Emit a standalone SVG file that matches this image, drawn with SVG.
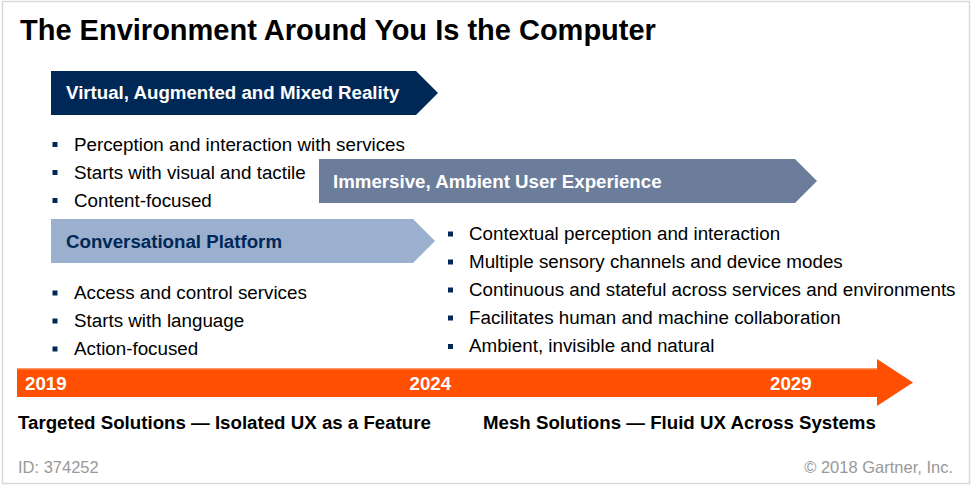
<svg xmlns="http://www.w3.org/2000/svg" width="972" height="487" viewBox="0 0 972 487">
<style>
text{font-family:"Liberation Sans",Arial,sans-serif}
.t{font-size:29px;font-weight:bold;fill:#000}
.h{font-size:18.7px;font-weight:bold}
.w{fill:#fff}
.b{font-size:18.8px;fill:#000}
.bl{fill:#002856}
.yr{font-size:18.7px;font-weight:bold;fill:#fff}
.lab{font-size:18.7px;font-weight:bold;fill:#000}
.ft{font-size:16.5px;fill:#999}
</style>
<rect x="0" y="0" width="972" height="487" fill="#fff"/>
<rect x="2.5" y="1.5" width="967" height="482" fill="none" stroke="#d9d9d9" stroke-width="1.5"/>
<text class="t" x="20" y="40">The Environment Around You Is the Computer</text>

<g id="vamr">
<polygon points="51,71 416,71 438,93 416,115 51,115" fill="#002856"/>
<text class="h w" x="66" y="99">Virtual, Augmented and Mixed Reality</text>
</g>
<g id="vamr-bullets">
<rect class="bl" x="52.5" y="142" width="5" height="5"/>
<rect class="bl" x="52.5" y="170" width="5" height="5"/>
<rect class="bl" x="52.5" y="198" width="5" height="5"/>
<text class="b" x="74" y="150.5">Perception and interaction with services</text>
<text class="b" x="74" y="178.5">Starts with visual and tactile</text>
<text class="b" x="74" y="206.5">Content-focused</text>
</g>

<g id="immersive">
<polygon points="319,159 795,159 817,181 795,203 319,203" fill="#6c7d9c"/>
<text class="h w" x="333" y="187.5">Immersive, Ambient User Experience</text>
</g>

<g id="conversational">
<polygon points="51,219 413,219 435,241 413,263 51,263" fill="#9bafce"/>
<text class="h" x="66" y="247.5" fill="#002856">Conversational Platform</text>
</g>
<g id="conv-bullets">
<rect class="bl" x="52.5" y="290.5" width="5" height="5"/>
<rect class="bl" x="52.5" y="318.5" width="5" height="5"/>
<rect class="bl" x="52.5" y="346.5" width="5" height="5"/>
<text class="b" x="74" y="298.5">Access and control services</text>
<text class="b" x="74" y="326.5">Starts with language</text>
<text class="b" x="74" y="354.5">Action-focused</text>
</g>

<g id="immersive-bullets">
<rect class="bl" x="448" y="231.5" width="5" height="5"/>
<rect class="bl" x="448" y="259.5" width="5" height="5"/>
<rect class="bl" x="448" y="287.5" width="5" height="5"/>
<rect class="bl" x="448" y="315.5" width="5" height="5"/>
<rect class="bl" x="448" y="344" width="5" height="5"/>
<text class="b" x="469" y="239.5">Contextual perception and interaction</text>
<text class="b" x="469" y="267.5">Multiple sensory channels and device modes</text>
<text class="b" x="469" y="295.5">Continuous and stateful across services and environments</text>
<text class="b" x="469" y="323.5">Facilitates human and machine collaboration</text>
<text class="b" x="469" y="352">Ambient, invisible and natural</text>
</g>

<g id="timeline">
<polygon points="17,368.5 877,368.5 877,359 913,382.5 877,406 877,397 17,397" fill="#fe5000"/>
<line x1="17" y1="369" x2="877" y2="369" stroke="#ff8a55" stroke-width="1"/>
<text class="yr" x="25" y="390">2019</text>
<text class="yr" x="409.5" y="390">2024</text>
<text class="yr" x="770" y="390">2029</text>
</g>

<g id="labels">
<text class="lab" x="18" y="429">Targeted Solutions — Isolated UX as a Feature</text>
<text class="lab" x="483" y="429">Mesh Solutions — Fluid UX Across Systems</text>
</g>

<text class="ft" x="18" y="473">ID: 374252</text>
<text class="ft" x="953" y="473" text-anchor="end">© 2018 Gartner, Inc.</text>
</svg>
